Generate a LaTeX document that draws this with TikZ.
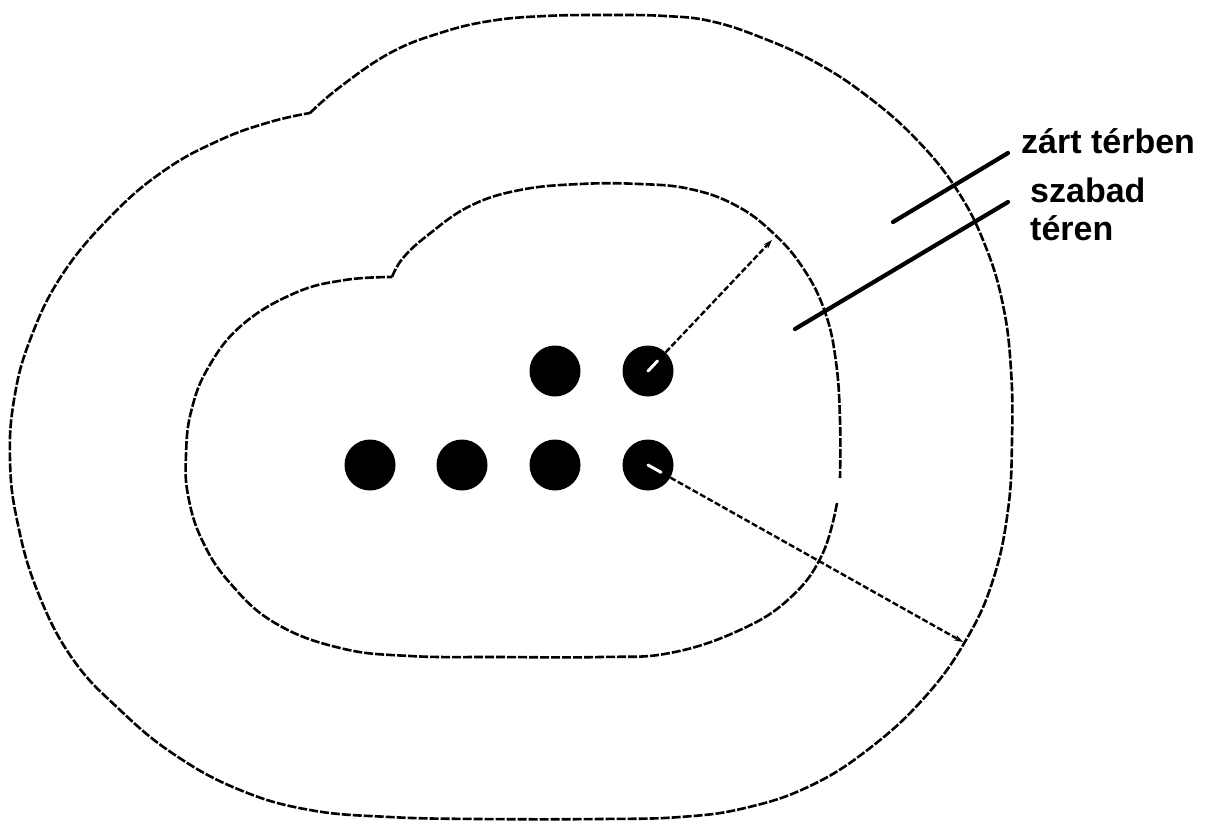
\documentclass[tikz,border=0pt]{standalone}
\usepackage{fontspec}
\setsansfont{Liberation Sans}
\usetikzlibrary{arrows.meta,positioning,calc}
\tikzset{
  zone/.style={line width=2.6pt, dash pattern=on 9pt off 2pt, line join=round},
  dot/.style={circle, fill=black, minimum size=51pt, inner sep=0pt},
  radius/.style={line width=2.4pt, dash pattern=on 6pt off 2.5pt,
    -{Stealth[length=9pt,width=6pt]}},
  streak/.style={white, line width=3pt, line cap=round},
  pointer/.style={line width=4.2pt, line cap=round},
  lbl/.style={font=\sffamily\bfseries\fontsize{34}{38}\selectfont, inner sep=0pt},
}

\begin{document}
\begin{tikzpicture}[x=1pt,y=-1pt]
  \useasboundingbox (0,0) rectangle (1213,823);
  % outer zone (closed space)
  \draw[zone] plot[smooth, tension=0.7] coordinates {
    (310,113) (340,87) (390,53) (440,33) (490,21) (545,16) (610,15) (665,16)
    (710,21) (760,37) (815,62) (867,96) (917,140) (957,190) (985,245) (1003,305)
    (1011,370) (1012,440) (1008,510) (993,580) (966,640) (925,697) (870,748)
    (810,786) (745,808) (680,817) (600,819) (480,819) (390,817) (310,810)
    (240,790) (175,755) (120,710) (72,658) (37,590) (17,520) (10,460)
    (14,400) (30,340) (62,275) (112,215) (165,170) (220,140) (270,122) (310,113)};
  % inner zone (free space), open at the right
  \draw[zone] plot[smooth, tension=0.7] coordinates {
    (837,503) (822,555) (790,598) (740,630) (670,653) (600,657) (500,657)
    (410,656) (340,648) (275,623) (230,583) (202,540) (188,495) (186,455)
    (191,412) (208,368) (242,325) (295,293) (345,280) (392,277)};
  \draw[zone] plot[smooth, tension=0.7] coordinates {
    (392,277) (403,258) (428,235) (470,206) (520,190) (580,184) (640,184)
    (690,189) (735,205) (772,232) (803,268) (825,312) (836,362) (840,420)
    (840,478)};
  % sources
  \node[dot] (d1) at (370,465) {};
  \node[dot] (d2) at (462,465) {};
  \node[dot] (d3) at (555,465) {};
  \node[dot] (d4) at (648,465) {};
  \node[dot] (d5) at (555,371) {};
  \node[dot] (d6) at (648,371) {};
  \coordinate (rin) at (772,240);
  \coordinate (rout) at (963,642);
  \draw[radius] (d6) -- (rin);
  \draw[radius] (d4) -- (rout);
  \draw[streak] (d6.center) -- ($(d6.center)!14pt!(rin)$);
  \draw[streak] (d4.center) -- ($(d4.center)!15pt!(rout)$);
  % labels
  \node[lbl, anchor=base west] (zart) at (1021,153) {zárt térben};
  \node[lbl, anchor=base west] (szabad) at (1030,202) {szabad};
  \node[lbl, anchor=base west] (teren) at (1030,240) {téren};
  \coordinate (pz) at (893,222);
  \coordinate (psz) at (795,329);
  \draw[pointer] ([xshift=-13pt]zart.base west) -- (pz);
  \draw[pointer] ([xshift=-22pt]szabad.base west) -- (psz);
\end{tikzpicture}
\end{document}
